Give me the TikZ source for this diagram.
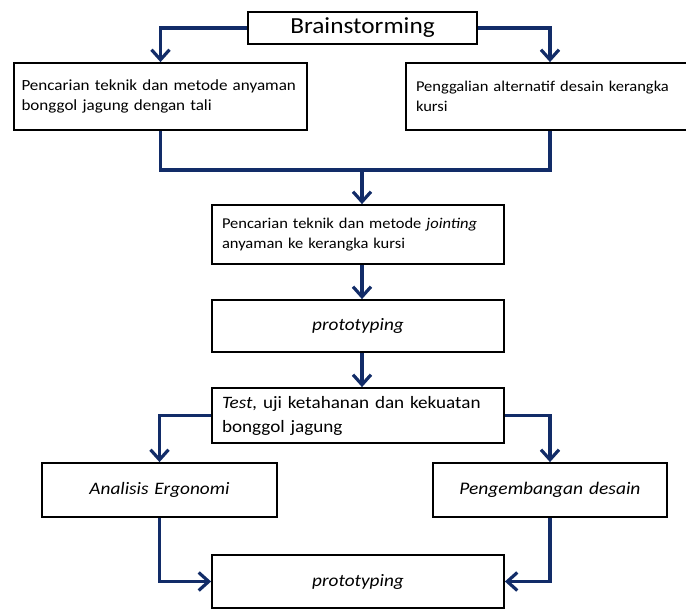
\documentclass[tikz,border=0pt]{standalone}
\usepackage{fontspec}
\setmainfont{Carlito}[FakeStretch=1.1]
\usetikzlibrary{arrows.meta}
\definecolor{navy}{RGB}{18,44,104}
\newcommand{\tight}{\spaceskip=.12em plus .1em\relax}

\begin{document}
\begin{tikzpicture}[x=1pt,y=-1pt,
  box/.style={draw,line width=1.8pt,inner xsep=10pt,inner ysep=0pt,align=left},
  flow/.style={draw=navy,line width=3.2pt,-{Straight Barb[length=10pt,width=18pt,line width=3.2pt]}},
  link/.style={draw=navy,line width=3.2pt}]
\useasboundingbox (0,0) rectangle (686,610);
\node[box,align=center,text width=209pt,minimum height=32pt,font=\fontsize{23}{26}\selectfont] (brain) at (362.5,28) {Brainstorming};
\node[box,text width=278pt,minimum height=67pt,inner xsep=7.5pt,font=\fontsize{15.5}{20}\selectfont\tight] (cari) at (160.5,96.5) {Pencarian teknik dan metode anyaman\\bonggol jagung dengan tali};
\node[box,text width=268pt,minimum height=67pt,font=\fontsize{15}{20}\selectfont\tight] (gali) at (550,96.5) {Penggalian alternatif desain kerangka\\kursi};
\node[box,text width=272pt,minimum height=59pt,font=\fontsize{15}{20}\selectfont\tight] (joint) at (358,234.5) {Pencarian teknik dan metode \emph{jointing}\\anyaman ke kerangka kursi};
\node[box,align=center,text width=272pt,minimum height=52pt,font=\fontsize{17.5}{20}\selectfont] (proto) at (358,326) {\emph{prototyping}};
\node[box,text width=272pt,minimum height=55pt,font=\fontsize{17.4}{24}\selectfont] (test) at (358,415.5) {\emph{Test,} uji ketahanan dan kekuatan\\bonggol jagung};
\node[box,align=center,text width=215pt,minimum height=54pt,font=\fontsize{17.5}{20}\selectfont] (ergo) at (159.5,490) {\emph{Analisis Ergonomi}};
\node[box,align=center,text width=214pt,minimum height=54pt,font=\fontsize{17.7}{20}\selectfont] (kembang) at (550,490) {\emph{Pengembangan desain}};
\node[box,align=center,text width=272pt,minimum height=53pt,font=\fontsize{17.5}{20}\selectfont] (protob) at (358,581.5) {\emph{prototyping}};
\coordinate (mid) at (362,170);
% brainstorming to the two searches
\draw[flow] (brain.west) -| (cari.north);
\draw[flow] (brain.east) -| (gali.north);
% both back into jointing
\draw[link] (cari.south) |- (mid);
\draw[link] (gali.south) |- (mid);
\draw[flow] (mid) -- (joint.north -| mid);
\draw[flow] (joint.south -| mid) -- (proto.north -| mid);
\draw[flow] (proto.south -| mid) -- (test.north -| mid);
% test splits
\draw[flow] (test.west) -| (ergo.north);
\draw[flow] (test.east) -| (kembang.north);
\draw[flow] (ergo.south) |- (protob.west);
\draw[flow] (kembang.south) |- (protob.east);
\end{tikzpicture}
\end{document}
